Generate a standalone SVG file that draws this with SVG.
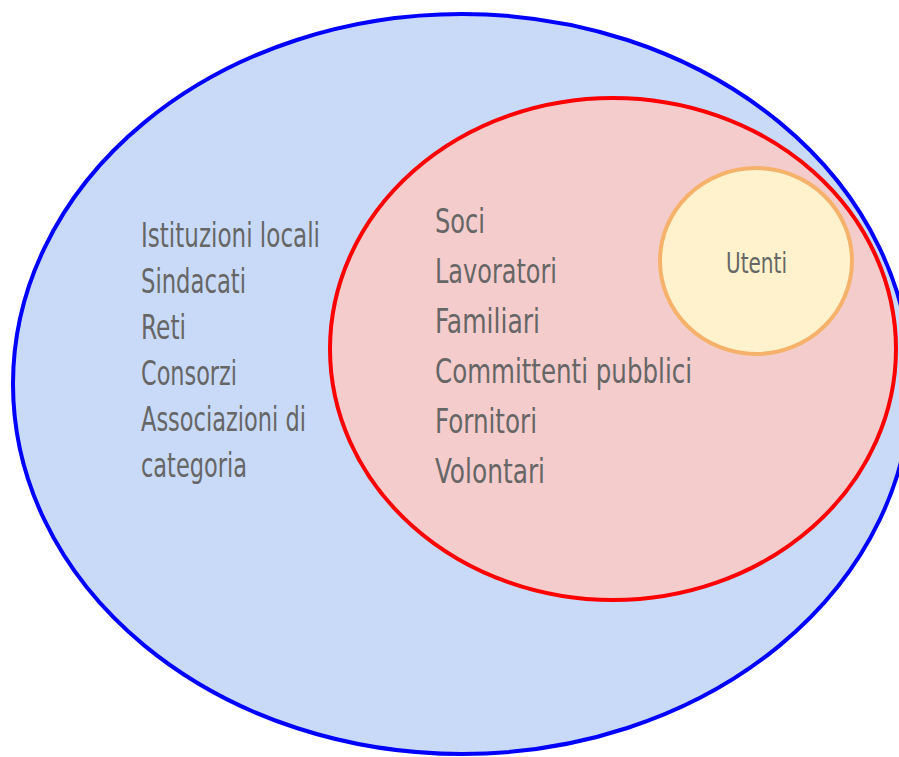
<svg xmlns="http://www.w3.org/2000/svg" width="899" height="757" viewBox="0 0 899 757">
<style>
.t{font-family:"DejaVu Sans Condensed","DejaVu Sans",sans-serif;font-size:33px;fill:#666666;}
.u{font-family:"DejaVu Sans Condensed","DejaVu Sans",sans-serif;font-size:28px;fill:#666666;}
</style>
<rect width="899" height="757" fill="#ffffff"/>
<g id="esterni">
<ellipse cx="462" cy="384" rx="449" ry="370" fill="#c9daf8" stroke="#0000ff" stroke-width="4"/>
<text class="t" x="141" y="247" textLength="179" lengthAdjust="spacingAndGlyphs">Istituzioni locali</text>
<text class="t" x="141" y="293" textLength="105" lengthAdjust="spacingAndGlyphs">Sindacati</text>
<text class="t" x="141" y="339" textLength="45" lengthAdjust="spacingAndGlyphs">Reti</text>
<text class="t" x="141" y="385" textLength="96" lengthAdjust="spacingAndGlyphs">Consorzi</text>
<text class="t" x="141" y="431" textLength="165" lengthAdjust="spacingAndGlyphs">Associazioni di</text>
<text class="t" x="141" y="477" textLength="106" lengthAdjust="spacingAndGlyphs">categoria</text>
</g>
<g id="interni">
<ellipse cx="613" cy="349" rx="283" ry="251" fill="#f4cccc" stroke="#ff0000" stroke-width="4"/>
<text class="t" x="435" y="233" textLength="50" lengthAdjust="spacingAndGlyphs">Soci</text>
<text class="t" x="435" y="283" textLength="122" lengthAdjust="spacingAndGlyphs">Lavoratori</text>
<text class="t" x="435" y="333" textLength="105" lengthAdjust="spacingAndGlyphs">Familiari</text>
<text class="t" x="435" y="383" textLength="257" lengthAdjust="spacingAndGlyphs">Committenti pubblici</text>
<text class="t" x="435" y="433" textLength="102" lengthAdjust="spacingAndGlyphs">Fornitori</text>
<text class="t" x="435" y="483" textLength="110" lengthAdjust="spacingAndGlyphs">Volontari</text>
</g>
<g id="utenti">
<ellipse cx="756" cy="261" rx="96" ry="93" fill="#fff2cc" stroke="#f6b26b" stroke-width="4"/>
<text class="u" x="726" y="273" textLength="61" lengthAdjust="spacingAndGlyphs">Utenti</text>
</g>
<g id="connectors"/>
</svg>
